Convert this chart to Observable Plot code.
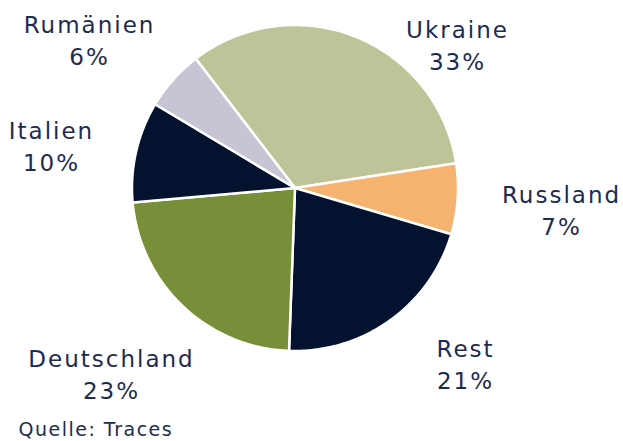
<!DOCTYPE html>
<html><head><meta charset="utf-8">
<script src="https://cdn.jsdelivr.net/npm/d3@7"></script>
<script src="https://cdn.jsdelivr.net/npm/@observablehq/plot@0.6"></script>
<style>body{margin:0;background:#fff;} svg{display:block;}</style>
</head><body><div id="chart"></div>
<script>
const categories = ["Ukraine", "Russland", "Rest", "Deutschland", "Italien", "Rumänien"];
const shares = [33, 7, 21, 23, 10, 6];
const colors = ["#bec497", "#f5b36f", "#03132f", "#778f38", "#03132f", "#c6c5d3"];
const caption = "Quelle: Traces";

// layout
const W = 623, H = 441;
const cx = 294.5, cy = 187.5, R = 163;
const startDeg = -37.5;
const labelPos = {
  "Ukraine": [457, 37],
  "Russland": [561, 202],
  "Rest": [465, 356],
  "Deutschland": [111, 366],
  "Italien": [51, 138],
  "Rumänien": [89, 32]
};
const lineGap = 32;

const total = d3.sum(shares);
const poly = [];
let acc = startDeg;
categories.forEach((c, i) => {
  const a0 = acc, a1 = acc + shares[i] / total * 360;
  acc = a1;
  poly.push({cat: c, x: cx, y: cy});
  const n = Math.max(2, Math.ceil(a1 - a0));
  for (let k = 0; k <= n; k++) {
    const a = (a0 + (a1 - a0) * k / n) * Math.PI / 180;
    poly.push({cat: c, x: cx + R * Math.sin(a), y: cy - R * Math.cos(a)});
  }
  poly.push({cat: c, x: cx, y: cy});
});

const labels = categories.map((c, i) => ({cat: c, pct: shares[i] + "%", x: labelPos[c][0], y: labelPos[c][1]}));

const font = "DejaVu Sans";
const ink = "#1d2b50";
const chart = Plot.plot({
  width: W, height: H,
  margin: 0,
  x: {domain: [0, W], range: [0, W], axis: null},
  y: {domain: [0, H], range: [0, H], axis: null},
  color: {domain: categories, range: colors},
  style: {fontFamily: font, background: "#fff"},
  marks: [
    Plot.line(poly, {x: "x", y: "y", z: "cat", fill: "cat", stroke: "#fff", strokeWidth: 2.5, strokeLinejoin: "round", curve: "linear"}),
    Plot.text(labels, {x: "x", y: "y", text: "cat", textAnchor: "middle", lineAnchor: "bottom", fontSize: 23, fill: ink, className: "lbl"}),
    Plot.text(labels, {x: "x", y: d => d.y + lineGap, text: "pct", textAnchor: "middle", lineAnchor: "bottom", fontSize: 23, fill: ink, className: "lbl"}),
    Plot.text([caption], {x: [18], y: [435], text: d => d, textAnchor: "start", lineAnchor: "bottom", fontSize: 19, fill: ink, className: "cap"})
  ]
});
chart.querySelectorAll(".lbl text").forEach(t => t.setAttribute("letter-spacing", "2"));
chart.querySelectorAll(".cap text").forEach(t => t.setAttribute("letter-spacing", "1.5"));
document.getElementById("chart").appendChild(chart);
</script></body></html>
